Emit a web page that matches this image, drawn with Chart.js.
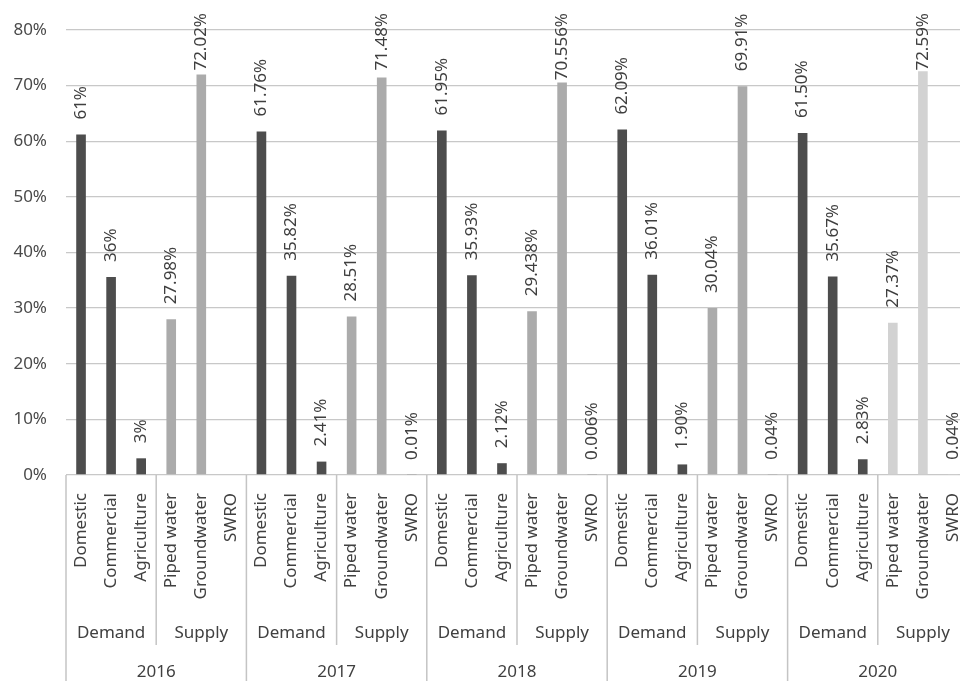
<!DOCTYPE html>
<html>
<head>
<meta charset="utf-8">
<script src="https://cdn.jsdelivr.net/npm/chart.js@4"></script>
<style>
  html, body { margin: 0; padding: 0; background: #fff; overflow: hidden; width: 960px; height: 681px; }
  #wrap { position: absolute; left: 0; top: 0; width: 975px; height: 681px; }
</style>
</head>
<body>
<div id="wrap"><canvas id="chart"></canvas></div>
<script>
// ===== DATA =====
const years = ['2016', '2017', '2018', '2019', '2020'];
const demandItems = ['Domestic', 'Commercial', 'Agriculture'];
const supplyItems = ['Piped water', 'Groundwater', 'SWRO'];
const yTicks = [0, 10, 20, 30, 40, 50, 60, 70, 80];

// share (%) per year, in item order
const demand2016 = [61.2, 35.6, 3.0];
const supply2016 = [27.98, 72.02, null];
const demand2017 = [61.76, 35.82, 2.41];
const supply2017 = [28.51, 71.48, 0.01];
const demand2018 = [61.95, 35.93, 2.12];
const supply2018 = [29.438, 70.556, 0.006];
const demand2019 = [62.09, 36.01, 1.90];
const supply2019 = [30.04, 69.91, 0.04];
const demand2020 = [61.50, 35.67, 2.83];
const supply2020 = [27.37, 72.59, 0.04];

// label texts exactly as printed
const labels2016 = ['61%', '36%', '3%', '27.98%', '72.02%', ''];
const labels2017 = ['61.76%', '35.82%', '2.41%', '28.51%', '71.48%', '0.01%'];
const labels2018 = ['61.95%', '35.93%', '2.12%', '29.438%', '70.556%', '0.006%'];
const labels2019 = ['62.09%', '36.01%', '1.90%', '30.04%', '69.91%', '0.04%'];
const labels2020 = ['61.50%', '35.67%', '2.83%', '27.37%', '72.59%', '0.04%'];

// ===== BUILD =====
const FONT = '"Noto Sans", "Open Sans", sans-serif';
const DARK = '#4d4d4d';
const LIGHT = '#ababab';
const LIGHTER = '#d2d2d2';

const valuesByYear = [
    demand2016.concat(supply2016),
    demand2017.concat(supply2017),
    demand2018.concat(supply2018),
    demand2019.concat(supply2019),
    demand2020.concat(supply2020),
];
const textByYear = [labels2016, labels2017, labels2018, labels2019, labels2020];
const groups = [
    { name: 'Demand', items: demandItems },
    { name: 'Supply', items: supplyItems },
];

const categories = [];
const values = [];
const valueTexts = [];
const colors = [];
years.forEach((y, yi) => {
    let k = 0;
    groups.forEach((g, gi) => {
        g.items.forEach(item => {
            categories.push(item);
            values.push(valuesByYear[yi][k]);
            valueTexts.push(textByYear[yi][k]);
            colors.push(gi === 0 ? DARK : (yi === years.length - 1 ? LIGHTER : LIGHT));
            k++;
        });
    });
});

// ---- custom drawing: value labels + multi-level category axis ----
const labelPlugin = {
    id: 'multiLabels',
    afterDatasetsDraw(chart) {
        const ctx = chart.ctx;
        const meta = chart.getDatasetMeta(0);
        ctx.save();
        ctx.font = '17px ' + FONT;
        ctx.fillStyle = '#3f3f3f';
        ctx.textAlign = 'left';
        ctx.textBaseline = 'middle';
        meta.data.forEach((el, i) => {
            const t = valueTexts[i];
            if (!t || values[i] === null) return;
            const w = ctx.measureText(t).width;
            const bottom = Math.max(el.y - 15, 13 + w);
            ctx.save();
            ctx.translate(el.x, bottom);
            ctx.rotate(-Math.PI / 2);
            ctx.fillText(t, 0, 0);
            ctx.restore();
        });
        ctx.restore();
    },
    afterDraw(chart) {
        const ctx = chart.ctx;
        const xs = chart.scales.x;
        const base = chart.chartArea.bottom;
        const step = xs.width / categories.length;
        ctx.save();
        ctx.font = '17px ' + FONT;
        ctx.fillStyle = '#404040';

        // item labels
        ctx.textAlign = 'right';
        ctx.textBaseline = 'middle';
        categories.forEach((c, i) => {
            ctx.save();
            ctx.translate(xs.getPixelForValue(i), base + 18);
            ctx.rotate(-Math.PI / 2);
            ctx.fillText(c, 0, 0);
            ctx.restore();
        });

        // separators + group and year labels
        ctx.strokeStyle = '#c4c4c4';
        ctx.lineWidth = 1.5;
        ctx.textAlign = 'center';
        let idx = 0;
        years.forEach((y, yi) => {
            const yStart = idx;
            const left = xs.getPixelForValue(yStart) - step / 2;
            ctx.beginPath();
            ctx.moveTo(left, base);
            ctx.lineTo(left, chart.height);
            ctx.stroke();
            groups.forEach((g, gi) => {
                const gStart = idx;
                const gEnd = idx + g.items.length - 1;
                if (gi > 0) {
                    const gx = xs.getPixelForValue(gStart) - step / 2;
                    ctx.beginPath();
                    ctx.moveTo(gx, base);
                    ctx.lineTo(gx, base + 170);
                    ctx.stroke();
                }
                const cx = (xs.getPixelForValue(gStart) + xs.getPixelForValue(gEnd)) / 2;
                ctx.fillText(g.name, cx, base + 158);
                idx = gEnd + 1;
            });
            const cy = (xs.getPixelForValue(yStart) + xs.getPixelForValue(idx - 1)) / 2;
            ctx.fillText(y, cy, base + 197);
        });
        const right = xs.getPixelForValue(idx - 1) + step / 2;
        ctx.beginPath();
        ctx.moveTo(right, base);
        ctx.lineTo(right, chart.height);
        ctx.stroke();
        ctx.restore();
    }
};

new Chart(document.getElementById('chart'), {
    type: 'bar',
    data: {
        labels: categories,
        datasets: [{
            data: values,
            backgroundColor: colors,
            borderWidth: 0,
            barPercentage: 0.32,
            categoryPercentage: 1,
        }]
    },
    options: {
        responsive: true, maintainAspectRatio: false,
        animation: false,
        layout: { padding: { top: 30, right: 7, left: 0, bottom: 0 } },
        plugins: { legend: { display: false }, tooltip: { enabled: false } },
        scales: {
            x: {
                grid: { display: false, drawTicks: false },
                border: { display: false },
                ticks: { display: false },
                afterFit: s => { s.height = 206; }
            },
            y: {
                min: yTicks[0], max: yTicks[yTicks.length - 1],
                afterBuildTicks: s => { s.ticks = yTicks.map(v => ({ value: v })); },
                grid: { color: '#c8c8c8', lineWidth: 1.3, drawTicks: false },
                border: { display: false },
                ticks: {
                    padding: 19,
                    color: '#4a4a4a',
                    font: { family: FONT, size: 17 },
                    callback: v => v + '%'
                },
                afterFit: s => { s.width = 66; }
            }
        }
    },
    plugins: [labelPlugin]
});
</script>
</body>
</html>
